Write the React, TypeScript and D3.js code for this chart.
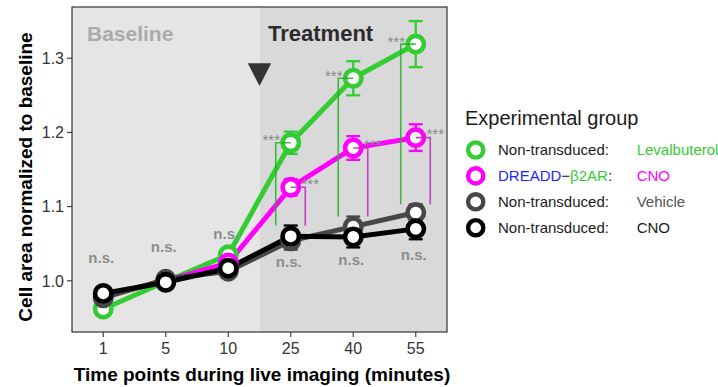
import React from "react";
import * as d3 from "d3";

// Time points (minutes) on a categorical axis
const timePoints = ["1", "5", "10", "25", "40", "55"];
const baselinePoints = ["1", "5", "10"];

// Group means and standard errors, cell area normalized to baseline
const levalbuterolMean = [0.962, 0.999, 1.035, 1.186, 1.273, 1.319];
const levalbuterolSE = [0.004, 0.004, 0.006, 0.015, 0.023, 0.031];
const dreaddCnoMean = [0.979, 1.0, 1.024, 1.126, 1.179, 1.193];
const dreaddCnoSE = [0.004, 0.004, 0.005, 0.011, 0.016, 0.018];
const vehicleMean = [0.977, 1.002, 1.013, 1.054, 1.073, 1.092];
const vehicleSE = [0.004, 0.004, 0.005, 0.012, 0.0136, 0.011];
const cnoMean = [0.983, 0.998, 1.017, 1.06, 1.059, 1.07];
const cnoSE = [0.004, 0.004, 0.005, 0.0145, 0.014, 0.014];

const yTicks = [1.0, 1.1, 1.2, 1.3];
// Heights (data units) where the "n.s." annotations sit
const nsLabelY = [1.031, 1.046, 1.063, 1.026, 1.028, 1.035];
const sigLabel = "***";

const GREEN = "#33cc33";
const MAGENTA = "#ff00ff";
const GREY = "#474747";
const BLACK = "#000000";

const series = [
  { key: "leva", mean: levalbuterolMean, se: levalbuterolSE, color: GREEN },
  { key: "dreadd", mean: dreaddCnoMean, se: dreaddCnoSE, color: MAGENTA },
  { key: "vehicle", mean: vehicleMean, se: vehicleSE, color: GREY },
  { key: "cno", mean: cnoMean, se: cnoSE, color: BLACK },
];

const FONT = "'Liberation Sans', Arial, Helvetica, sans-serif";

const W = 718;
const H = 387;
const panel = { left: 72, right: 447, top: 7, bottom: 332 };

export default function App() {
  const x = d3
    .scalePoint<string>()
    .domain(timePoints)
    .range([panel.left, panel.right])
    .padding(0.5);
  const y = d3
    .scaleLinear()
    .domain([0.931, 1.369])
    .range([panel.bottom, panel.top]);

  const line = d3
    .line<number>()
    .x((_, i) => x(timePoints[i]) as number)
    .y((d) => y(d));

  const lastBase = baselinePoints[baselinePoints.length - 1];
  const firstTreat = timePoints[baselinePoints.length];
  const split = ((x(lastBase) as number) + (x(firstTreat) as number)) / 2;

  const treatIdx = timePoints
    .map((_, i) => i)
    .filter((i) => !baselinePoints.includes(timePoints[i]));

  // bracket floor: top of the highest control error bar
  const bracketFloor = (i: number) =>
    Math.max(vehicleMean[i] + vehicleSE[i], cnoMean[i] + cnoSE[i]);

  const capW = 7;

  const legendRows = [
    { color: GREEN, parts: [{ t: "Non-transduced:", c: "#1a1a1a" }], group: { t: "Levalbuterol", c: GREEN } },
    {
      color: MAGENTA,
      parts: [
        { t: "DREADD", c: "#1f1fff" },
        { t: "\u2212", c: "#1a1a1a" },
        { t: "\u03b22AR", c: GREEN },
        { t: ":", c: "#1a1a1a" },
      ],
      group: { t: "CNO", c: MAGENTA },
    },
    { color: GREY, parts: [{ t: "Non-transduced:", c: "#1a1a1a" }], group: { t: "Vehicle", c: "#555555" } },
    { color: BLACK, parts: [{ t: "Non-transduced:", c: "#1a1a1a" }], group: { t: "CNO", c: "#1a1a1a" } },
  ];

  return (
    <svg
      width={W}
      height={H}
      style={{ position: "absolute", left: 0, top: 0, background: "#ffffff" }}
      fontFamily={FONT}
    >
      <rect x={0} y={0} width={W} height={H} fill="#ffffff" />
      {/* phase backgrounds */}
      <rect
        x={panel.left}
        y={panel.top}
        width={split - panel.left}
        height={panel.bottom - panel.top}
        fill="#e5e5e5"
      />
      <rect
        x={split}
        y={panel.top}
        width={panel.right - split}
        height={panel.bottom - panel.top}
        fill="#d9d9d9"
      />
      <text x={87} y={41} fontSize={21} fontWeight="bold" fill="#aaaaaa">
        Baseline
      </text>
      <text x={268} y={41} fontSize={22} fontWeight="bold" fill="#2b2b2b">
        Treatment
      </text>
      <path
        d={`M${split - 11.7},63.3 L${split + 11.7},63.3 L${split},86 Z`}
        fill="#333333"
      />

      {/* lines */}
      {series.map((s) => (
        <path
          key={`l-${s.key}`}
          d={line(s.mean) as string}
          fill="none"
          stroke={s.color}
          strokeWidth={5}
          strokeLinejoin="round"
        />
      ))}

      {/* error bars */}
      {series.map((s) =>
        s.mean.map((m, i) => {
          const cx = x(timePoints[i]) as number;
          const y1 = y(m + s.se[i]);
          const y2 = y(m - s.se[i]);
          return (
            <g key={`e-${s.key}-${i}`} stroke={s.color} strokeWidth={2.3}>
              <line x1={cx} x2={cx} y1={y1} y2={y2} />
              <line x1={cx - capW} x2={cx + capW} y1={y1} y2={y1} />
              <line x1={cx - capW} x2={cx + capW} y1={y2} y2={y2} />
            </g>
          );
        })
      )}

      {/* points */}
      {series.map((s) =>
        s.mean.map((m, i) => (
          <circle
            key={`p-${s.key}-${i}`}
            cx={x(timePoints[i]) as number}
            cy={y(m)}
            r={8.2}
            fill="#ffffff"
            stroke={s.color}
            strokeWidth={4.6}
          />
        ))
      )}

      {/* significance brackets vs. controls */}
      {treatIdx.map((i) => {
        const cx = x(timePoints[i]) as number;
        const floor = y(bracketFloor(i));
        const gy = y(levalbuterolMean[i]);
        const my = y(dreaddCnoMean[i]);
        const gx = cx - 15;
        const mx = cx + 14.5;
        return (
          <g key={`b-${i}`} fill="none">
            <path
              d={`M${cx},${gy} H${gx} V${floor}`}
              stroke="#22b022"
              strokeOpacity={0.85}
              strokeWidth={1.6}
            />
            <path
              d={`M${cx},${my} H${mx} V${floor}`}
              stroke="#c030c0"
              strokeOpacity={0.9}
              strokeWidth={1.6}
            />
            <text
              x={gx - 4.5}
              y={gy - 6 + 8.7}
              fontSize={15}
              fill="#888888"
              textAnchor="middle"
            >
              {sigLabel}
            </text>
            <text
              x={mx + 5}
              y={my - 7 + 8.7}
              fontSize={15}
              fill="#888888"
              textAnchor="middle"
            >
              {sigLabel}
            </text>
          </g>
        );
      })}

      {/* n.s. annotations */}
      {timePoints.map((t, i) => (
        <text
          key={`ns-${t}`}
          x={(x(t) as number) - 2}
          y={y(nsLabelY[i])}
          dy="0.35em"
          fontSize={15}
          fontWeight="bold"
          fill="#8c8c8c"
          textAnchor="middle"
        >
          n.s.
        </text>
      ))}

      {/* panel border */}
      <rect
        x={panel.left}
        y={panel.top}
        width={panel.right - panel.left}
        height={panel.bottom - panel.top}
        fill="none"
        stroke="#333333"
        strokeWidth={1.2}
      />

      {/* y axis */}
      {yTicks.map((v) => (
        <g key={`yt-${v}`}>
          <line x1={panel.left - 5} x2={panel.left} y1={y(v)} y2={y(v)} stroke="#333333" strokeWidth={1.1} />
          <text
            x={panel.left - 8}
            y={y(v)}
            dy="0.36em"
            fontSize={16}
            fill="#333333"
            textAnchor="end"
          >
            {d3.format(".1f")(v)}
          </text>
        </g>
      ))}
      {/* x axis */}
      {timePoints.map((t) => (
        <g key={`xt-${t}`}>
          <line
            x1={x(t) as number}
            x2={x(t) as number}
            y1={panel.bottom}
            y2={panel.bottom + 5}
            stroke="#333333"
            strokeWidth={1.1}
          />
          <text x={x(t) as number} y={354} fontSize={16} fill="#333333" textAnchor="middle">
            {t}
          </text>
        </g>
      ))}

      <text x={262} y={381} fontSize={19} fontWeight="bold" fill="#000000" textAnchor="middle">
        Time points during live imaging (minutes)
      </text>
      <text
        transform="translate(32,177) rotate(-90)"
        fontSize={19}
        fontWeight="bold"
        fill="#000000"
        textAnchor="middle"
      >
        Cell area normalized to baseline
      </text>

      {/* legend */}
      <text x={465} y={125} fontSize={20} fill="#1a1a1a">
        Experimental group
      </text>
      {legendRows.map((r, k) => {
        const ry = 150 + k * 25.9;
        return (
          <g key={`lg-${k}`}>
            <circle cx={475.7} cy={ry} r={7.6} fill="#ffffff" stroke={r.color} strokeWidth={4.4} />
            <text x={498} y={ry} dy="0.35em" fontSize={15}>
              {r.parts.map((p, j) => (
                <tspan key={j} fill={p.c}>
                  {p.t}
                </tspan>
              ))}
            </text>
            <text x={636.7} y={ry} dy="0.35em" fontSize={15} fill={r.group.c}>
              {r.group.t}
            </text>
          </g>
        );
      })}
    </svg>
  );
}
